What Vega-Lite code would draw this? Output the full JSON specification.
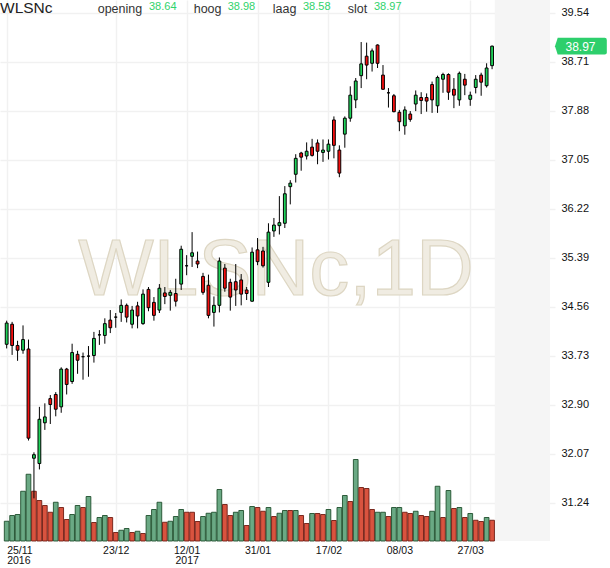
{
  "$schema": "https://vega.github.io/schema/vega-lite/v6.json",
  "description": "WLSNc daily candlesticks with volume, 25/11/2016 - 31/03/2017",
  "width": 555,
  "height": 541,
  "autosize": "none",
  "padding": {"left": 0, "top": 0, "right": 55, "bottom": 27},
  "background": "#ffffff",
  "config": {"view": {"stroke": null}, "font": "Liberation Sans"},
  "data": {"values": [
    {"day":0,"open":33.92,"high":34.32,"low":33.85,"close":34.28,"volume":790,"vdir":"up"},
    {"day":1,"open":34.26,"high":34.30,"low":33.74,"close":33.90,"volume":1020,"vdir":"up"},
    {"day":2,"open":33.90,"high":33.98,"low":33.64,"close":33.82,"volume":1060,"vdir":"up"},
    {"day":3,"open":33.82,"high":34.24,"low":33.76,"close":34.00,"volume":1990,"vdir":"up"},
    {"day":4,"open":33.84,"high":34.00,"low":32.29,"close":32.33,"volume":2670,"vdir":"up"},
    {"day":5,"open":31.99,"high":32.09,"low":31.31,"close":32.05,"volume":1990,"vdir":"down"},
    {"day":6,"open":31.90,"high":32.86,"low":31.80,"close":32.65,"volume":1620,"vdir":"down"},
    {"day":7,"open":32.59,"high":32.92,"low":32.47,"close":32.69,"volume":1420,"vdir":"down"},
    {"day":8,"open":33.00,"high":33.06,"low":32.57,"close":32.90,"volume":1150,"vdir":"down"},
    {"day":9,"open":33.07,"high":33.11,"low":32.70,"close":32.82,"volume":1550,"vdir":"up"},
    {"day":10,"open":32.86,"high":33.53,"low":32.76,"close":33.50,"volume":1340,"vdir":"down"},
    {"day":11,"open":33.50,"high":33.52,"low":33.07,"close":33.24,"volume":860,"vdir":"down"},
    {"day":12,"open":33.29,"high":33.93,"low":33.25,"close":33.78,"volume":1060,"vdir":"up"},
    {"day":13,"open":33.75,"high":33.81,"low":33.42,"close":33.65,"volume":1420,"vdir":"up"},
    {"day":14,"open":33.71,"high":33.78,"low":33.32,"close":33.71,"volume":1340,"vdir":"down"},
    {"day":15,"open":33.72,"high":33.89,"low":33.37,"close":33.72,"volume":1780,"vdir":"up"},
    {"day":16,"open":33.73,"high":34.13,"low":33.61,"close":34.02,"volume":740,"vdir":"down"},
    {"day":17,"open":34.08,"high":34.16,"low":33.91,"close":34.08,"volume":940,"vdir":"up"},
    {"day":18,"open":34.07,"high":34.36,"low":33.93,"close":34.27,"volume":1020,"vdir":"up"},
    {"day":19,"open":34.33,"high":34.50,"low":34.11,"close":34.20,"volume":940,"vdir":"down"},
    {"day":20,"open":34.38,"high":34.45,"low":34.20,"close":34.38,"volume":340,"vdir":"down"},
    {"day":21,"open":34.46,"high":34.68,"low":34.30,"close":34.58,"volume":430,"vdir":"up"},
    {"day":22,"open":34.58,"high":34.61,"low":34.29,"close":34.38,"volume":500,"vdir":"up"},
    {"day":23,"open":34.26,"high":34.57,"low":34.19,"close":34.50,"volume":340,"vdir":"down"},
    {"day":24,"open":34.57,"high":34.64,"low":34.19,"close":34.40,"volume":390,"vdir":"up"},
    {"day":25,"open":34.27,"high":34.85,"low":34.25,"close":34.77,"volume":300,"vdir":"down"},
    {"day":26,"open":34.85,"high":34.89,"low":34.48,"close":34.54,"volume":1020,"vdir":"up"},
    {"day":27,"open":34.63,"high":34.72,"low":34.32,"close":34.41,"volume":1260,"vdir":"up"},
    {"day":28,"open":34.50,"high":34.94,"low":34.45,"close":34.87,"volume":1550,"vdir":"up"},
    {"day":29,"open":34.79,"high":34.89,"low":34.60,"close":34.73,"volume":750,"vdir":"down"},
    {"day":30,"open":34.75,"high":34.84,"low":34.49,"close":34.80,"volume":790,"vdir":"up"},
    {"day":31,"open":34.78,"high":35.03,"low":34.56,"close":34.65,"volume":980,"vdir":"up"},
    {"day":32,"open":34.94,"high":35.59,"low":34.84,"close":35.53,"volume":1260,"vdir":"up"},
    {"day":33,"open":35.25,"high":35.43,"low":35.09,"close":35.25,"volume":1150,"vdir":"down"},
    {"day":34,"open":35.41,"high":35.82,"low":35.23,"close":35.47,"volume":1150,"vdir":"down"},
    {"day":35,"open":35.33,"high":35.49,"low":35.21,"close":35.28,"volume":780,"vdir":"down"},
    {"day":36,"open":35.07,"high":35.13,"low":34.76,"close":34.80,"volume":980,"vdir":"up"},
    {"day":37,"open":34.92,"high":35.10,"low":34.36,"close":34.41,"volume":1110,"vdir":"up"},
    {"day":38,"open":34.46,"high":34.73,"low":34.22,"close":34.58,"volume":1150,"vdir":"up"},
    {"day":39,"open":34.58,"high":35.39,"low":34.46,"close":35.33,"volume":2060,"vdir":"up"},
    {"day":40,"open":35.21,"high":35.28,"low":34.81,"close":34.87,"volume":1460,"vdir":"down"},
    {"day":41,"open":34.97,"high":35.03,"low":34.49,"close":34.72,"volume":1020,"vdir":"down"},
    {"day":42,"open":34.98,"high":35.28,"low":34.57,"close":34.84,"volume":1150,"vdir":"up"},
    {"day":43,"open":35.01,"high":35.11,"low":34.58,"close":34.77,"volume":1220,"vdir":"up"},
    {"day":44,"open":34.84,"high":34.89,"low":34.67,"close":34.78,"volume":620,"vdir":"down"},
    {"day":45,"open":34.65,"high":35.56,"low":34.64,"close":35.48,"volume":1380,"vdir":"up"},
    {"day":46,"open":35.52,"high":35.72,"low":35.26,"close":35.32,"volume":1340,"vdir":"down"},
    {"day":47,"open":35.50,"high":35.57,"low":35.22,"close":35.25,"volume":1190,"vdir":"down"},
    {"day":48,"open":34.97,"high":35.97,"low":34.89,"close":35.82,"volume":1340,"vdir":"up"},
    {"day":49,"open":35.84,"high":36.06,"low":35.74,"close":35.94,"volume":980,"vdir":"down"},
    {"day":50,"open":35.93,"high":36.43,"low":35.78,"close":35.98,"volume":1110,"vdir":"up"},
    {"day":51,"open":35.97,"high":36.60,"low":35.89,"close":36.47,"volume":1220,"vdir":"up"},
    {"day":52,"open":36.59,"high":36.70,"low":36.29,"close":36.65,"volume":1220,"vdir":"down"},
    {"day":53,"open":36.80,"high":37.14,"low":36.66,"close":37.07,"volume":1220,"vdir":"up"},
    {"day":54,"open":37.16,"high":37.18,"low":36.86,"close":37.09,"volume":1020,"vdir":"down"},
    {"day":55,"open":37.11,"high":37.34,"low":37.05,"close":37.19,"volume":700,"vdir":"down"},
    {"day":56,"open":37.26,"high":37.40,"low":37.10,"close":37.12,"volume":1100,"vdir":"up"},
    {"day":57,"open":37.33,"high":37.39,"low":36.97,"close":37.19,"volume":1100,"vdir":"down"},
    {"day":58,"open":37.17,"high":37.39,"low":37.01,"close":37.21,"volume":1060,"vdir":"down"},
    {"day":59,"open":37.19,"high":37.39,"low":37.05,"close":37.31,"volume":1260,"vdir":"up"},
    {"day":60,"open":37.72,"high":37.78,"low":37.07,"close":37.29,"volume":820,"vdir":"down"},
    {"day":61,"open":37.21,"high":37.29,"low":36.75,"close":36.82,"volume":1340,"vdir":"up"},
    {"day":62,"open":37.48,"high":37.78,"low":37.25,"close":37.75,"volume":1820,"vdir":"up"},
    {"day":63,"open":37.75,"high":38.29,"low":37.69,"close":38.14,"volume":1580,"vdir":"down"},
    {"day":64,"open":38.06,"high":38.43,"low":37.92,"close":38.38,"volume":3260,"vdir":"up"},
    {"day":65,"open":38.47,"high":39.04,"low":38.26,"close":38.67,"volume":2140,"vdir":"down"},
    {"day":66,"open":38.80,"high":39.03,"low":38.41,"close":38.65,"volume":2100,"vdir":"down"},
    {"day":67,"open":38.68,"high":38.93,"low":38.54,"close":38.89,"volume":1260,"vdir":"down"},
    {"day":68,"open":38.99,"high":39.00,"low":38.60,"close":38.68,"volume":1150,"vdir":"up"},
    {"day":69,"open":38.48,"high":38.65,"low":38.23,"close":38.24,"volume":1150,"vdir":"up"},
    {"day":70,"open":38.18,"high":38.26,"low":37.93,"close":38.18,"volume":980,"vdir":"down"},
    {"day":71,"open":38.13,"high":38.16,"low":37.85,"close":37.86,"volume":1340,"vdir":"up"},
    {"day":72,"open":37.85,"high":37.89,"low":37.53,"close":37.69,"volume":1340,"vdir":"up"},
    {"day":73,"open":37.62,"high":37.95,"low":37.47,"close":37.89,"volume":1150,"vdir":"down"},
    {"day":74,"open":37.82,"high":37.87,"low":37.69,"close":37.73,"volume":1100,"vdir":"down"},
    {"day":75,"open":37.99,"high":38.22,"low":37.87,"close":38.14,"volume":1190,"vdir":"up"},
    {"day":76,"open":38.10,"high":38.19,"low":37.82,"close":38.05,"volume":1020,"vdir":"down"},
    {"day":77,"open":38.10,"high":38.17,"low":37.86,"close":38.04,"volume":980,"vdir":"down"},
    {"day":78,"open":38.32,"high":38.37,"low":37.84,"close":38.06,"volume":1190,"vdir":"up"},
    {"day":79,"open":37.96,"high":38.47,"low":37.84,"close":38.44,"volume":2190,"vdir":"up"},
    {"day":80,"open":38.41,"high":38.52,"low":38.18,"close":38.49,"volume":940,"vdir":"down"},
    {"day":81,"open":38.49,"high":38.51,"low":38.06,"close":38.19,"volume":2020,"vdir":"up"},
    {"day":82,"open":38.24,"high":38.43,"low":37.92,"close":38.14,"volume":1300,"vdir":"down"},
    {"day":83,"open":38.06,"high":38.54,"low":37.96,"close":38.51,"volume":1340,"vdir":"up"},
    {"day":84,"open":38.41,"high":38.50,"low":38.14,"close":38.31,"volume":940,"vdir":"down"},
    {"day":85,"open":38.07,"high":38.20,"low":37.96,"close":38.14,"volume":1100,"vdir":"up"},
    {"day":86,"open":38.27,"high":38.48,"low":38.17,"close":38.41,"volume":830,"vdir":"down"},
    {"day":87,"open":38.48,"high":38.52,"low":38.13,"close":38.36,"volume":780,"vdir":"down"},
    {"day":88,"open":38.30,"high":38.68,"low":38.27,"close":38.60,"volume":940,"vdir":"up"},
    {"day":89,"open":38.64,"high":38.98,"low":38.58,"close":38.97,"volume":830,"vdir":"down"}
  ]},
  "encoding": {
    "x": {
      "field": "day",
      "type": "quantitative",
      "scale": {"domain": [-0.306, 99.62], "nice": false, "zero": false},
      "axis": {
        "title": null,
        "values": [0, 20, 33, 46, 59, 72, 85],
        "labelExpr": "datum.value == 0 ? ['25/11', '2016'] : datum.value == 20 ? '23/12' : datum.value == 33 ? ['12/01', '2017'] : datum.value == 46 ? '31/01' : datum.value == 59 ? '17/02' : datum.value == 72 ? '08/03' : '27/03'",
        "labelAlign": {"condition": {"test": "datum.value == 0", "value": "left"}, "value": "center"},
        "labelFontSize": 10.5,
        "labelLineHeight": 10.5,
        "labelColor": "#111111",
        "labelPadding": 4,
        "labelOverlap": false,
        "labelFlush": false,
        "ticks": false,
        "domain": false,
        "grid": true,
        "gridColor": "#f1f1f1",
        "gridWidth": 1.5
      }
    }
  },
  "layer": [
    {
      "transform": [{"filter": "datum.day == 89"}],
      "mark": {"type": "rect", "fill": "#f5f5f5"},
      "encoding": {"x": {"datum": 89.5}, "x2": {"datum": 99.62}}
    },
    {
      "transform": [{"filter": "datum.day == 89"}],
      "mark": {"type": "text", "text": "WLSNc,1D", "fontSize": 80, "align": "center", "baseline": "alphabetic", "fill": "#f0ece2", "stroke": "#ddd6c3", "strokeWidth": 1.2},
      "encoding": {"x": {"value": 276}, "y": {"value": 295}}
    },
    {
      "mark": {"type": "bar", "width": 4.7, "strokeWidth": 0.9},
      "encoding": {
        "y": {"field": "volume", "type": "quantitative", "scale": {"domain": [0, 21640], "nice": false}, "axis": null},
        "fill": {"field": "vdir", "type": "nominal", "scale": {"domain": ["up", "down"], "range": ["#6aa984", "#d9533f"]}, "legend": null},
        "stroke": {"field": "vdir", "type": "nominal", "scale": {"domain": ["up", "down"], "range": ["#1f4f2d", "#6e1c12"]}, "legend": null}
      }
    },
    {
      "layer": [
        {
          "mark": {"type": "rule", "stroke": "#000000", "strokeWidth": 1},
          "encoding": {
            "y": {
              "field": "low",
              "type": "quantitative",
              "title": null,
              "scale": {"domain": [30.588, 39.752], "nice": false, "zero": false},
              "axis": {
                "orient": "right",
                "title": null,
                "values": [31.24, 32.07, 32.90, 33.73, 34.56, 35.39, 36.22, 37.05, 37.88, 38.71, 39.54],
                "format": ".2f",
                "labelFontSize": 11,
                "labelColor": "#111111",
                "labelPadding": 6,
                "ticks": false,
                "domain": false,
                "grid": true,
                "gridColor": "#f1f1f1",
                "gridWidth": 1.5
              }
            },
            "y2": {"field": "high"}
          }
        },
        {
          "mark": {"type": "bar", "width": 2.8, "stroke": "#000000", "strokeWidth": 1},
          "encoding": {
            "y": {"field": "open", "type": "quantitative", "title": null, "scale": {"domain": [30.588, 39.752], "nice": false, "zero": false}},
            "y2": {"field": "close"},
            "fill": {"condition": {"test": "datum.close > datum.open", "value": "#1fd35a"}, "value": "#f50f0f"}
          }
        },
        {
          "transform": [{"filter": "datum.day == 89"}],
          "layer": [
            {
              "mark": {"type": "point", "shape": "M-1,0 L-0.9,-0.31 L0.84,-0.31 Q0.92,-0.31 0.92,-0.23 L0.92,0.23 Q0.92,0.31 0.84,0.31 L-0.9,0.31 Z", "size": 2916, "filled": true, "fill": "#2dcf6c", "stroke": null, "opacity": 1},
              "encoding": {"x": {"value": 582}, "y": {"field": "close", "type": "quantitative", "title": null, "scale": {"domain": [30.588, 39.752], "nice": false, "zero": false}}}
            },
            {
              "mark": {"type": "text", "fontSize": 12, "fill": "#ffffff", "align": "center", "baseline": "middle", "dy": 0.5},
              "encoding": {"x": {"value": 580.5}, "y": {"field": "close", "type": "quantitative", "title": null, "scale": {"domain": [30.588, 39.752], "nice": false, "zero": false}}, "text": {"field": "close", "type": "quantitative", "format": ".2f"}}
            },
            {
              "mark": {"type": "text", "text": "WLSNc", "fontSize": 15.5, "fill": "#222222", "align": "left", "baseline": "alphabetic"},
              "encoding": {"x": {"value": 0}, "y": {"value": 12.7}}
            },
            {
              "mark": {"type": "text", "text": "opening", "fontSize": 12.5, "fill": "#333333", "align": "left", "baseline": "alphabetic"},
              "encoding": {"x": {"value": 97.7}, "y": {"value": 12.7}}
            },
            {
              "mark": {"type": "text", "fontSize": 11, "fill": "#2fd36b", "align": "left", "baseline": "alphabetic"},
              "encoding": {"x": {"value": 149}, "y": {"value": 10.3}, "text": {"field": "open", "type": "quantitative", "format": ".2f"}}
            },
            {
              "mark": {"type": "text", "text": "hoog", "fontSize": 12.5, "fill": "#333333", "align": "left", "baseline": "alphabetic"},
              "encoding": {"x": {"value": 193.7}, "y": {"value": 12.7}}
            },
            {
              "mark": {"type": "text", "fontSize": 11, "fill": "#2fd36b", "align": "left", "baseline": "alphabetic"},
              "encoding": {"x": {"value": 227.7}, "y": {"value": 10.3}, "text": {"field": "high", "type": "quantitative", "format": ".2f"}}
            },
            {
              "mark": {"type": "text", "text": "laag", "fontSize": 12.5, "fill": "#333333", "align": "left", "baseline": "alphabetic"},
              "encoding": {"x": {"value": 272.7}, "y": {"value": 12.7}}
            },
            {
              "mark": {"type": "text", "fontSize": 11, "fill": "#2fd36b", "align": "left", "baseline": "alphabetic"},
              "encoding": {"x": {"value": 303}, "y": {"value": 10.3}, "text": {"field": "low", "type": "quantitative", "format": ".2f"}}
            },
            {
              "mark": {"type": "text", "text": "slot", "fontSize": 12.5, "fill": "#333333", "align": "left", "baseline": "alphabetic"},
              "encoding": {"x": {"value": 347.7}, "y": {"value": 12.7}}
            },
            {
              "mark": {"type": "text", "fontSize": 11, "fill": "#2fd36b", "align": "left", "baseline": "alphabetic"},
              "encoding": {"x": {"value": 374}, "y": {"value": 10.3}, "text": {"field": "close", "type": "quantitative", "format": ".2f"}}
            }
          ]
        }
      ]
    }
  ],
  "resolve": {"scale": {"y": "independent"}}
}
